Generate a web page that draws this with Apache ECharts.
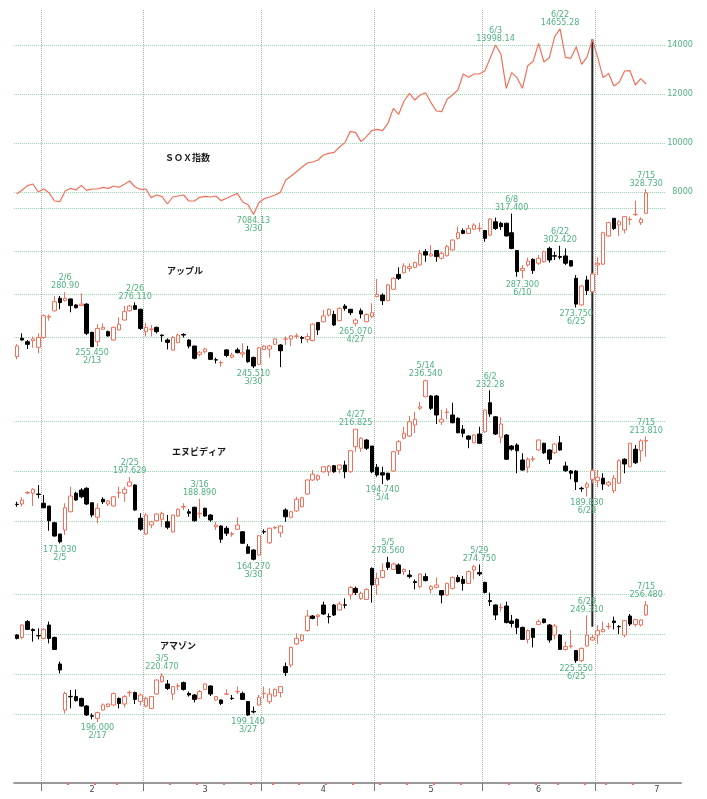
<!DOCTYPE html>
<html><head><meta charset="utf-8">
<script src="https://cdn.jsdelivr.net/npm/echarts@6/dist/echarts.min.js"></script>
<style>html,body{margin:0;padding:0;background:#fff}#c{width:707px;height:799px}</style>
</head><body><div id="c"></div>
<script>
// ---- categories (trading days 2026) ----
const dates = ['1/26','1/27','1/28','1/29','1/30',
'2/2','2/3','2/4','2/5','2/6','2/9','2/10','2/11','2/12','2/13','2/17','2/18','2/19','2/20','2/23','2/24','2/25','2/26','2/27',
'3/2','3/3','3/4','3/5','3/6','3/9','3/10','3/11','3/12','3/13','3/16','3/17','3/18','3/19','3/20','3/23','3/24','3/25','3/26','3/27','3/30','3/31',
'4/1','4/2','4/6','4/7','4/8','4/9','4/10','4/13','4/14','4/15','4/16','4/17','4/20','4/21','4/22','4/23','4/24','4/27','4/28','4/29','4/30',
'5/1','5/4','5/5','5/6','5/7','5/8','5/11','5/12','5/13','5/14','5/15','5/18','5/19','5/20','5/21','5/22','5/26','5/27','5/28','5/29',
'6/1','6/2','6/3','6/4','6/5','6/8','6/9','6/10','6/11','6/12','6/15','6/16','6/17','6/18','6/22','6/23','6/24','6/25','6/26','6/29','6/30',
'7/1','7/2','7/6','7/7','7/8','7/9','7/10','7/13','7/14','7/15'];
const futureDates = ['7/16','7/17','7/20','7/21','7/22','7/23'];
const monthStarts = ['2/2','3/2','4/1','5/1','6/1','7/1'];
const weekStarts = ['2/9','2/17','2/23','3/9','3/16','3/23','3/30','4/6','4/13','4/20','4/27','5/4','5/11','5/18','5/26',
'6/8','6/15','6/22','6/29','7/6','7/13'];
const monthLabels = {'2/13':'2','3/17':'3','4/17':'4','5/15':'5','6/15':'6','7/17':'7'};

// ---- SOX index (close) ----
const soxClose = [7918,8082,8259,8327,8000,8122,7973,7633,7605,8041,
8150,8082,8272,8068,8122,8122,8190,8150,8245,8190,
8313,8449,8204,8109,8122,7769,7878,7810,7510,7796,
7837,7878,7633,7633,7782,7823,7796,7837,7646,7742,
7850,7946,7592,7483,7084.13,7565,7728,7796,7878,7986,
8490,8653,8830,9007,9184,9224,9306,9510,9578,9619,
9837,10014,10476,10422,10054,10258,10503,10558,10503,10803,
11415,11170,11714,12027,11755,11959,12054,11646,11306,11279,
11782,11959,12163,12816,12680,12816,12816,12939,13456,13998.14,
13632,12231,12871,12667,12231,13156,13333,14068,13306,13483,
14340,14655.28,13496,13456,13932,13211,13496,14231,13496,12667,
12843,12326,12476,12939,12952,12367,12626,12408];

// ---- candles: [open, close, low, high] ----
const apple = [[250.9,255.8,249.6,256.7],[259.4,258.6,258.3,261.7],[257.8,256.6,254.4,258.6],[258.3,259.1,255.0,260.2],[255.2,259.8,252.4,261.7],
[259.8,269.9,259.1,270.5],[269.2,269.6,267.6,270.5],[272.2,276.4,271.8,279.1],[278.0,276.0,272.9,279.1],[276.9,278.0,276.5,280.9],
[277.7,274.6,271.5,277.9],[274.9,273.6,273.3,275.2],[274.6,275.3,274.4,280.3],[275.3,261.7,260.9,275.7],[262.2,255.5,255.45,262.4],
[257.8,264.0,255.5,266.0],[263.6,264.5,263.3,266.4],[262.5,260.5,260.2,263.0],[258.6,264.5,258.3,264.8],[263.3,265.9,263.1,269.1],
[267.9,271.8,267.6,274.4],[272.2,274.4,271.8,274.9],[274.6,272.9,272.6,276.11],[272.9,264.0,263.3,273.1],[262.5,264.5,260.2,266.7],
[263.5,263.7,260.2,265.6],[264.5,262.5,261.7,264.8],[260.9,260.6,257.8,261.2],[258.6,257.5,254.2,259.4],[253.9,259.8,253.6,260.5],
[257.4,260.9,257.1,261.7],[261.2,260.9,259.8,261.7],[258.6,255.8,254.7,258.9],[255.8,250.1,249.6,255.9],[251.9,252.9,250.9,253.5],
[253.2,254.4,252.4,255.0],[252.7,249.6,249.3,252.9],[249.4,249.3,247.7,250.4],[248.0,248.1,246.2,249.0],[254.0,251.4,250.6,254.3],
[250.6,251.6,250.1,252.7],[254.0,252.7,252.4,255.0],[252.1,252.7,250.4,257.1],[254.0,248.5,248.0,255.8],[250.5,246.5,245.51,250.9],
[247.3,255.0,247.0,255.5],[254.2,255.8,253.9,256.3],[254.4,255.8,250.4,256.3],[256.6,259.1,256.3,259.4],[256.3,253.6,246.0,256.7],
[259.0,259.1,256.3,260.2],[259.1,260.5,255.8,260.9],[260.3,260.5,259.1,261.7],[259.8,259.4,257.1,260.5],[258.9,260.2,257.4,261.7],
[258.3,266.0,258.0,266.4],[266.7,263.3,260.9,267.0],[267.1,269.8,266.8,272.6],[270.2,272.9,269.5,273.3],[270.5,265.6,265.1,272.2],
[267.6,273.3,267.3,273.8],[274.4,273.3,272.2,275.3],[272.9,271.3,270.2,272.9],[266.4,267.9,265.07,268.7],[272.2,270.7,268.7,273.3],
[267.1,270.5,267.0,271.0],[269.5,271.3,268.7,275.7],[278.8,279.8,278.4,287.0],[279.5,276.9,274.9,280.3],[276.9,284.2,276.6,284.7],
[282.2,287.3,281.9,287.8],[289.1,287.3,286.5,292.4],[289.9,293.0,289.6,294.3],[291.9,292.7,290.4,294.3],[292.4,294.6,291.9,295.0],
[293.5,298.9,293.2,300.5],[299.7,298.1,295.0,300.8],[297.7,298.6,297.4,302.8],[300.2,297.4,295.0,300.5],[296.6,298.9,296.1,299.7],
[297.8,302.0,297.4,302.8],[300.5,305.1,300.2,305.4],[305.9,308.5,305.4,311.3],[309.5,308.2,307.8,310.5],[308.2,310.5,307.9,312.1],
[310.1,312.1,309.8,312.9],[310.4,310.6,309.0,313.2],[309.5,305.9,304.3,309.8],[307.4,314.9,307.0,315.2],[313.6,310.5,309.8,315.5],
[312.9,311.3,309.8,313.6],[312.9,307.0,306.7,313.2],[308.5,301.2,300.8,317.4],[300.2,290.4,288.0,300.5],[290.9,291.9,287.3,293.5],
[293.5,295.3,292.7,296.9],[296.1,290.9,289.3,296.6],[294.3,296.6,293.5,298.1],[295.0,299.7,294.6,300.2],[301.2,295.8,294.6,302.0],
[297.8,297.6,295.8,299.7],[297.4,297.1,296.1,302.42],[297.7,294.3,293.5,301.2],[295.5,293.0,292.7,295.8],[287.3,275.3,273.75,288.8],
[274.9,283.7,274.4,284.2],[286.5,281.6,279.5,288.4],[281.1,289.3,280.6,289.9],[293.5,294.3,288.8,297.1],[293.9,308.5,293.5,309.0],
[307.0,313.2,306.7,313.6],[315.2,310.5,309.8,315.2],[312.1,313.6,307.0,314.4],[309.8,316.0,308.2,316.3],[314.6,314.8,312.1,316.0],
[316.9,317.1,316.3,323.4],[313.2,314.7,312.1,315.7],[317.5,327.1,317.2,328.73]];

const nvidia = [[186.7,186.6,185.7,187.7],[186.8,188.4,185.7,189.5],[191.2,191.4,190.7,192.0],[191.1,192.7,186.0,193.1],[190.8,190.6,189.1,194.4],
[187.1,185.3,185.1,190.4],[186.0,180.1,176.1,186.0],[179.3,174.0,173.7,179.7],[174.8,171.7,171.03,174.8],[176.4,185.3,174.4,187.1],
[183.7,190.0,183.5,193.7],[191.1,188.4,188.1,191.7],[192.4,189.7,189.1,193.1],[193.1,186.8,186.4,193.5],[187.3,182.4,181.5,187.4],
[181.5,185.1,179.1,187.1],[188.7,187.7,186.8,189.5],[186.8,188.0,186.0,188.4],[186.0,189.7,185.7,190.0],[191.2,191.4,189.1,193.7],
[191.1,192.7,187.7,193.7],[194.0,195.6,193.7,197.629],[194.4,184.4,184.1,194.7],[181.1,176.7,176.1,183.1],[174.8,182.4,174.4,183.1],
[178.4,179.7,177.1,180.1],[180.1,182.8,179.7,183.1],[180.7,183.1,177.7,183.7],[179.7,177.5,176.7,182.4],[175.7,182.4,175.3,182.7],
[182.0,184.7,181.7,185.1],[185.6,185.8,184.4,187.1],[183.7,183.1,181.7,184.7],[185.5,180.1,179.7,185.7],[182.9,183.1,181.1,188.89],
[185.1,182.0,181.7,185.3],[182.4,180.4,179.7,182.7],[177.7,178.4,176.4,179.7],[178.0,172.7,171.3,178.3],[177.1,175.1,174.0,178.0],
[174.7,174.9,173.7,175.7],[176.7,178.4,176.4,181.5],[175.7,171.1,170.8,176.0],[169.7,167.1,166.8,170.8],[168.4,164.7,164.27,168.7],
[166.4,174.1,166.1,174.4],[175.8,175.6,174.8,176.7],[171.3,177.1,170.8,177.3],[177.2,177.4,176.7,178.0],[175.3,178.0,173.5,178.3],
[184.4,181.7,179.7,185.1],[181.5,183.7,181.1,184.0],[184.0,188.7,183.7,189.7],[185.7,189.3,185.5,189.7],[190.8,196.4,190.4,196.7],
[196.4,198.7,196.1,200.4],[196.7,198.1,196.0,198.7],[199.7,201.7,199.3,202.0],[199.7,202.0,198.0,202.4],[202.1,199.7,199.3,202.4],
[200.7,202.4,199.1,202.7],[202.4,199.7,197.1,204.1],[199.7,208.1,199.3,208.4],[209.7,216.7,207.7,216.825],[209.1,213.1,207.7,213.5],
[212.4,209.1,208.4,212.7],[210.0,199.7,199.1,210.0],[201.5,198.4,197.7,202.8],[199.3,198.4,194.74,201.7],[199.1,196.7,196.1,199.3],
[200.0,207.7,199.7,208.1],[208.1,211.7,206.4,212.4],[213.1,215.1,212.7,217.7],[214.0,219.7,213.5,222.0],[218.4,220.7,215.1,223.7],
[225.1,225.7,224.4,227.7],[229.7,236.1,229.5,236.54],[230.0,225.1,224.4,230.4],[230.0,222.4,218.8,230.4],[219.6,220.7,218.4,224.4],
[223.4,223.6,220.7,225.1],[222.4,219.3,219.1,227.3],[221.1,215.3,215.1,221.5],[216.7,215.1,213.5,218.4],[214.0,212.7,209.1,214.3],
[211.3,214.4,211.1,214.8],[214.8,211.1,210.8,217.7],[215.7,224.4,215.3,224.7],[227.3,222.8,221.7,232.28],[221.7,214.8,214.4,222.0],
[213.5,218.8,211.1,221.5],[214.4,204.7,204.4,214.8],[210.0,208.7,208.1,210.4],[210.4,208.1,199.1,211.1],[204.4,200.4,200.1,207.1],
[201.5,204.7,199.3,205.5],[204.7,204.9,203.7,206.0],[208.4,212.4,208.1,212.7],[211.1,207.3,206.8,211.3],[208.4,204.7,202.8,208.7],
[207.3,210.8,206.8,211.1],[211.3,208.4,208.1,214.0],[202.0,200.1,199.7,203.7],[200.0,199.1,196.7,200.4],[200.0,195.7,192.4,200.4],
[193.1,192.9,191.7,193.7],[193.5,194.8,189.83,195.7],[196.7,200.1,195.1,200.7],[196.1,197.5,193.5,200.4],[197.1,194.8,192.4,199.1],
[194.4,195.5,193.7,196.0],[192.1,197.1,191.1,198.4],[195.1,204.1,194.8,204.7],[204.7,202.8,199.1,205.1],[201.7,211.1,201.5,211.3],
[208.7,203.3,202.8,210.4],[208.1,212.1,203.7,212.7],[212.0,212.2,205.7,213.81]];

const amazon = [[239.5,237.8,237.3,240.0],[238.3,244.5,237.3,244.8],[246.2,242.3,242.0,247.0],[242.3,241.7,236.2,242.8],[239.2,239.1,237.3,242.8],
[237.8,242.3,237.3,242.8],[244.5,237.8,235.3,246.2],[238.3,232.3,232.0,238.7],[225.0,222.0,220.3,226.2],[202.0,210.3,200.3,211.2],
[208.8,208.6,202.8,212.0],[208.7,206.7,206.2,212.3],[207.8,204.0,203.7,208.2],[204.0,199.5,199.0,204.5],[199.1,198.9,197.3,200.3],
[197.8,200.7,196.0,201.2],[202.0,204.5,201.7,205.3],[203.7,205.0,203.3,205.3],[204.5,210.3,204.0,210.7],[207.8,205.3,202.8,208.3],
[205.0,208.7,203.3,209.5],[210.6,210.8,208.7,211.7],[210.7,207.3,205.0,211.2],[206.2,209.5,204.2,210.3],[204.0,207.8,203.3,208.7],
[202.8,208.7,202.5,209.0],[210.0,217.0,209.5,217.3],[216.2,219.0,215.7,220.47],[215.0,212.8,212.0,217.0],[210.0,213.7,207.0,214.0],
[213.9,214.1,212.0,215.3],[215.7,212.3,211.7,216.2],[210.3,209.5,208.7,211.2],[209.5,207.3,205.8,210.0],[207.8,211.2,207.3,212.0],
[212.3,215.0,212.0,215.3],[214.0,210.0,209.0,214.3],[207.0,208.7,206.7,209.0],[207.0,205.3,204.5,207.3],[209.9,210.1,209.5,212.3],
[207.9,207.7,207.0,209.5],[211.1,211.3,210.0,213.7],[210.3,207.3,207.0,211.2],[206.2,199.5,199.14,206.5],[201.3,201.0,200.3,203.7],
[204.5,208.3,204.2,209.5],[210.2,210.4,207.8,213.7],[206.2,210.0,205.0,212.8],[209.0,212.3,208.7,212.8],[210.7,213.7,208.3,214.0],
[223.7,220.7,219.0,225.7],[224.5,233.3,223.3,233.7],[235.0,237.8,234.5,240.3],[236.7,239.5,236.2,239.8],[241.7,249.0,241.2,252.0],
[249.0,247.8,247.3,249.5],[248.7,249.5,244.0,250.0],[254.5,250.0,249.5,256.2],[248.7,248.6,245.3,250.3],[254.5,249.5,249.0,255.0],
[252.0,255.0,251.7,256.2],[254.6,254.4,252.8,257.8],[259.5,263.3,257.3,264.0],[262.8,260.7,259.5,263.7],[257.8,260.3,257.0,261.2],
[257.3,262.3,257.0,262.8],[272.8,264.5,255.7,273.3],[264.5,267.8,259.5,270.7],[268.3,271.7,267.8,275.3],[275.7,273.3,272.0,278.56],
[272.3,275.0,272.0,275.7],[274.5,270.3,270.0,275.3],[271.2,272.3,269.5,272.8],[269.5,268.7,267.8,272.0],[266.2,265.7,262.3,267.3],
[263.7,270.0,262.8,270.3],[268.7,266.7,266.2,270.3],[262.3,263.7,260.3,264.5],[263.3,264.5,262.8,268.3],[261.7,259.5,255.3,262.0],
[259.5,265.3,259.0,265.7],[262.8,268.3,262.3,268.7],[268.3,266.2,265.7,269.5],[267.3,265.3,261.7,269.0],[265.3,271.2,265.0,271.7],
[272.0,273.7,267.3,274.5],[270.7,270.0,269.0,274.75],[265.8,260.8,260.3,266.2],[256.7,256.2,254.0,260.7],[254.5,249.5,247.0,254.8],
[253.1,253.3,251.2,255.3],[254.0,245.7,245.3,256.2],[246.5,245.3,243.3,249.5],[247.3,243.3,240.0,247.8],[243.3,237.3,237.0,243.7],
[237.3,241.7,235.3,242.3],[242.8,238.3,233.3,242.8],[244.8,246.2,244.5,247.3],[247.5,245.7,245.3,247.8],[244.5,237.0,235.7,245.0],
[239.5,244.0,237.3,245.0],[239.5,232.3,232.0,240.0],[232.3,233.7,231.7,236.2],[233.9,234.1,232.8,242.0],[231.7,226.7,225.55,232.0],
[226.7,232.8,226.0,233.3],[234.0,239.5,233.7,249.31],[237.0,238.3,236.7,239.5],[239.5,241.7,235.0,244.5],[241.2,242.3,240.7,246.2],
[243.6,243.8,242.3,245.7],[246.5,245.7,242.3,248.7],[243.8,243.6,240.0,244.5],[239.5,246.7,238.3,247.0],[249.0,245.0,244.0,250.0],
[244.8,247.2,243.7,247.5],[244.5,247.0,243.7,247.3],[249.5,254.5,249.0,256.48]];

// ---- gridline values: [min, max, step] ----
const soxTicks = [8000, 14000, 2000];
const appleTicks = [260, 320, 20];
const nvidiaTicks = [180, 220, 20];
const amazonTicks = [200, 260, 20];

// ---- high / low annotations: [date, text, kind] ----
const soxNotes = [['3/30','7084.13','low'],['6/3','13998.14','high'],['6/22','14655.28','high']];
const appleNotes = [['2/6','280.90','high'],['2/13','255.450','low'],['2/26','276.110','high'],['3/30','245.510','low'],
['4/27','265.070','low'],['6/8','317.400','high'],['6/10','287.300','low'],['6/22','302.420','high'],['6/25','273.750','low'],['7/15','328.730','high']];
const nvidiaNotes = [['2/5','171.030','low'],['2/25','197.629','high'],['3/16','188.890','high'],['3/30','164.270','low'],
['4/27','216.825','high'],['5/4','194.740','low'],['5/14','236.540','high'],['6/2','232.28','high'],['6/29','189.830','low'],['7/15','213.810','high']];
const amazonNotes = [['2/17','196.000','low'],['3/5','220.470','high'],['3/27','199.140','low'],['5/5','278.560','high'],
['5/29','274.750','high'],['6/25','225.550','low'],['6/29','249.310','high'],['7/15','256.480','high']];

const titles = ['ＳＯＸ指数','アップル','エヌビディア','アマゾン'];
const markerDate = '6/30';
const markerEndAmazon = 243.6;

// ---- layout ----
const W = 707, H = 799;
const allDates = dates.concat(futureDates);
const boundaries = allDates.concat(['end']);   // band edges: edge i sits before category i
const BW = 5.379, LEFT = 14.1;
const NDATA = 121;
const AXIS_Y = 783, TOP = 10;
const GREEN = '#4fb27e', GRID = '#95d6b2', RED = '#f2705a';
const NUMFONT = "'Liberation Sans Narrow','DejaVu Sans Condensed',sans-serif";
const panels = [
  {ticks: soxTicks, top: 45, height: 147},
  {ticks: appleTicks, top: 208, height: 129},
  {ticks: nvidiaTicks, top: 421, height: 100},
  {ticks: amazonTicks, top: 594, height: 120}
];

const chart = echarts.init(document.getElementById('c'), null, {renderer: 'canvas'});

function notes(arr) {
  return {
    symbol: 'rect', symbolSize: 0, silent: true,
    data: arr.map(([d, t, k]) => ({
      coord: [dates.indexOf(d), parseFloat(t)],
      label: {
        show: true, position: k === 'high' ? 'top' : 'bottom', distance: 2,
        formatter: k === 'high' ? d + '\n' + t : t + '\n' + d,
        color: GREEN, fontSize: 9, lineHeight: 8, fontFamily: NUMFONT
      }
    }))
  };
}

const axisRect = {left: LEFT, top: TOP, width: BW * allDates.length, height: AXIS_Y - TOP};
const grids = [Object.assign({}, axisRect)];
const xAxes = [{type: 'category', gridIndex: 0, data: allDates, boundaryGap: true,
  axisLine: {show: true, lineStyle: {color: '#9a9a9a', width: 2}},
  axisTick: {show: false},
  axisLabel: {show: true, interval: (i, v) => v in monthLabels, formatter: v => monthLabels[v] || '',
              fontSize: 9, color: '#444', margin: 2},
  splitLine: {show: false}}];
const yAxes = [{type: 'value', gridIndex: 0, min: 0, max: 1, show: false}];

// gridline grids (1..4)
panels.forEach((p, k) => {
  grids.push({left: LEFT, top: p.top, width: BW * NDATA, height: p.height});
  xAxes.push({type: 'category', gridIndex: k + 1, data: allDates.slice(0, NDATA), boundaryGap: true, show: false});
  const ya = {type: 'value', gridIndex: k + 1, min: p.ticks[0], max: p.ticks[1], interval: p.ticks[2],
    axisLine: {show: false}, axisTick: {show: false}, axisLabel: {show: false},
    splitLine: {show: true, lineStyle: {type: 'dotted', color: GRID, width: 1}}};
  if (k === 0) {
    ya.position = 'right';
    ya.axisLabel = {show: true, color: GREEN, fontSize: 9, align: 'right', margin: 28, fontFamily: NUMFONT,
                    formatter: v => String(v)};
  }
  yAxes.push(ya);
});
// full-height data grids (5..8) sharing each panel's value-to-pixel scale
panels.forEach((p, k) => {
  const [mn, mx] = p.ticks;
  const ppu = p.height / (mx - mn);
  grids.push({left: LEFT, top: 0, width: BW * NDATA, height: H});
  xAxes.push({type: 'category', gridIndex: k + 5, data: allDates.slice(0, NDATA), boundaryGap: true, show: false});
  yAxes.push({type: 'value', gridIndex: k + 5, show: false, splitLine: {show: false},
    min: mn - (H - p.top - p.height) / ppu, max: mx + p.top / ppu});
});
// band-edge axes (9: month lines + ticks, 10: weekly red marks)
grids.push(Object.assign({}, axisRect), Object.assign({}, axisRect));
xAxes.push({type: 'category', gridIndex: 9, data: boundaries, boundaryGap: false,
  axisLine: {show: false}, axisLabel: {show: false},
  axisTick: {show: true, length: 8, interval: (i, v) => monthStarts.includes(v), lineStyle: {color: '#777'}},
  splitLine: {show: true, interval: (i, v) => monthStarts.includes(v),
              lineStyle: {type: 'dotted', color: '#b0b0b0', width: 1}}});
xAxes.push({type: 'category', gridIndex: 10, data: boundaries, boundaryGap: false,
  axisLine: {show: false}, axisLabel: {show: false}, splitLine: {show: false},
  axisTick: {show: true, length: 2, interval: (i, v) => weekStarts.includes(v), lineStyle: {color: RED, width: 2}}});
yAxes.push({type: 'value', gridIndex: 9, min: 0, max: 1, show: false},
           {type: 'value', gridIndex: 10, min: 0, max: 1, show: false});

const candleStyle = {color: '#ffffff', color0: '#000000', borderColor: RED, borderColor0: '#000000', borderWidth: 1};
function candle(idx, data, nts) {
  return {type: 'candlestick', xAxisIndex: idx, yAxisIndex: idx, data: data, barWidth: 4,
    itemStyle: candleStyle, markPoint: notes(nts), z: 3};
}

const titleStyle = {fontSize: 9, fontWeight: 'bold', color: '#1a1a1a', fontFamily: "'Noto Sans CJK JP',sans-serif"};
const option = {
  animation: false,
  textStyle: {fontFamily: NUMFONT},
  title: [
    {text: titles[0], left: 165, top: 153},
    {text: titles[1], left: 167, top: 266},
    {text: titles[2], left: 172, top: 447},
    {text: titles[3], left: 160, top: 641}
  ].map(t => Object.assign(t, {padding: 0, textStyle: titleStyle})),
  grid: grids, xAxis: xAxes, yAxis: yAxes,
  series: [
    {type: 'line', xAxisIndex: 0, yAxisIndex: 0, data: [], silent: true},
    {type: 'line', xAxisIndex: 9, yAxisIndex: 9, data: [], silent: true},
    {type: 'line', xAxisIndex: 10, yAxisIndex: 10, data: [], silent: true},
    {type: 'line', xAxisIndex: 5, yAxisIndex: 5, data: soxClose, symbol: 'none', z: 3,
     lineStyle: {color: RED, width: 1.2}, markPoint: notes(soxNotes)},
    candle(6, apple, appleNotes),
    candle(7, nvidia, nvidiaNotes),
    candle(8, amazon, amazonNotes)
  ]
};
chart.setOption(option);

// vertical marker line at markerDate, drawn beneath the candles
const mi = dates.indexOf(markerDate);
const p1 = chart.convertToPixel({xAxisIndex: 5, yAxisIndex: 5}, [mi, soxClose[mi]]);
const p2 = chart.convertToPixel({xAxisIndex: 8, yAxisIndex: 8}, [mi, markerEndAmazon]);
chart.setOption({graphic: [{type: 'line', z: 1, silent: true,
  shape: {x1: p1[0], y1: p1[1], x2: p2[0], y2: p2[1]},
  style: {stroke: '#222', lineWidth: 2}}]});
</script></body></html>
